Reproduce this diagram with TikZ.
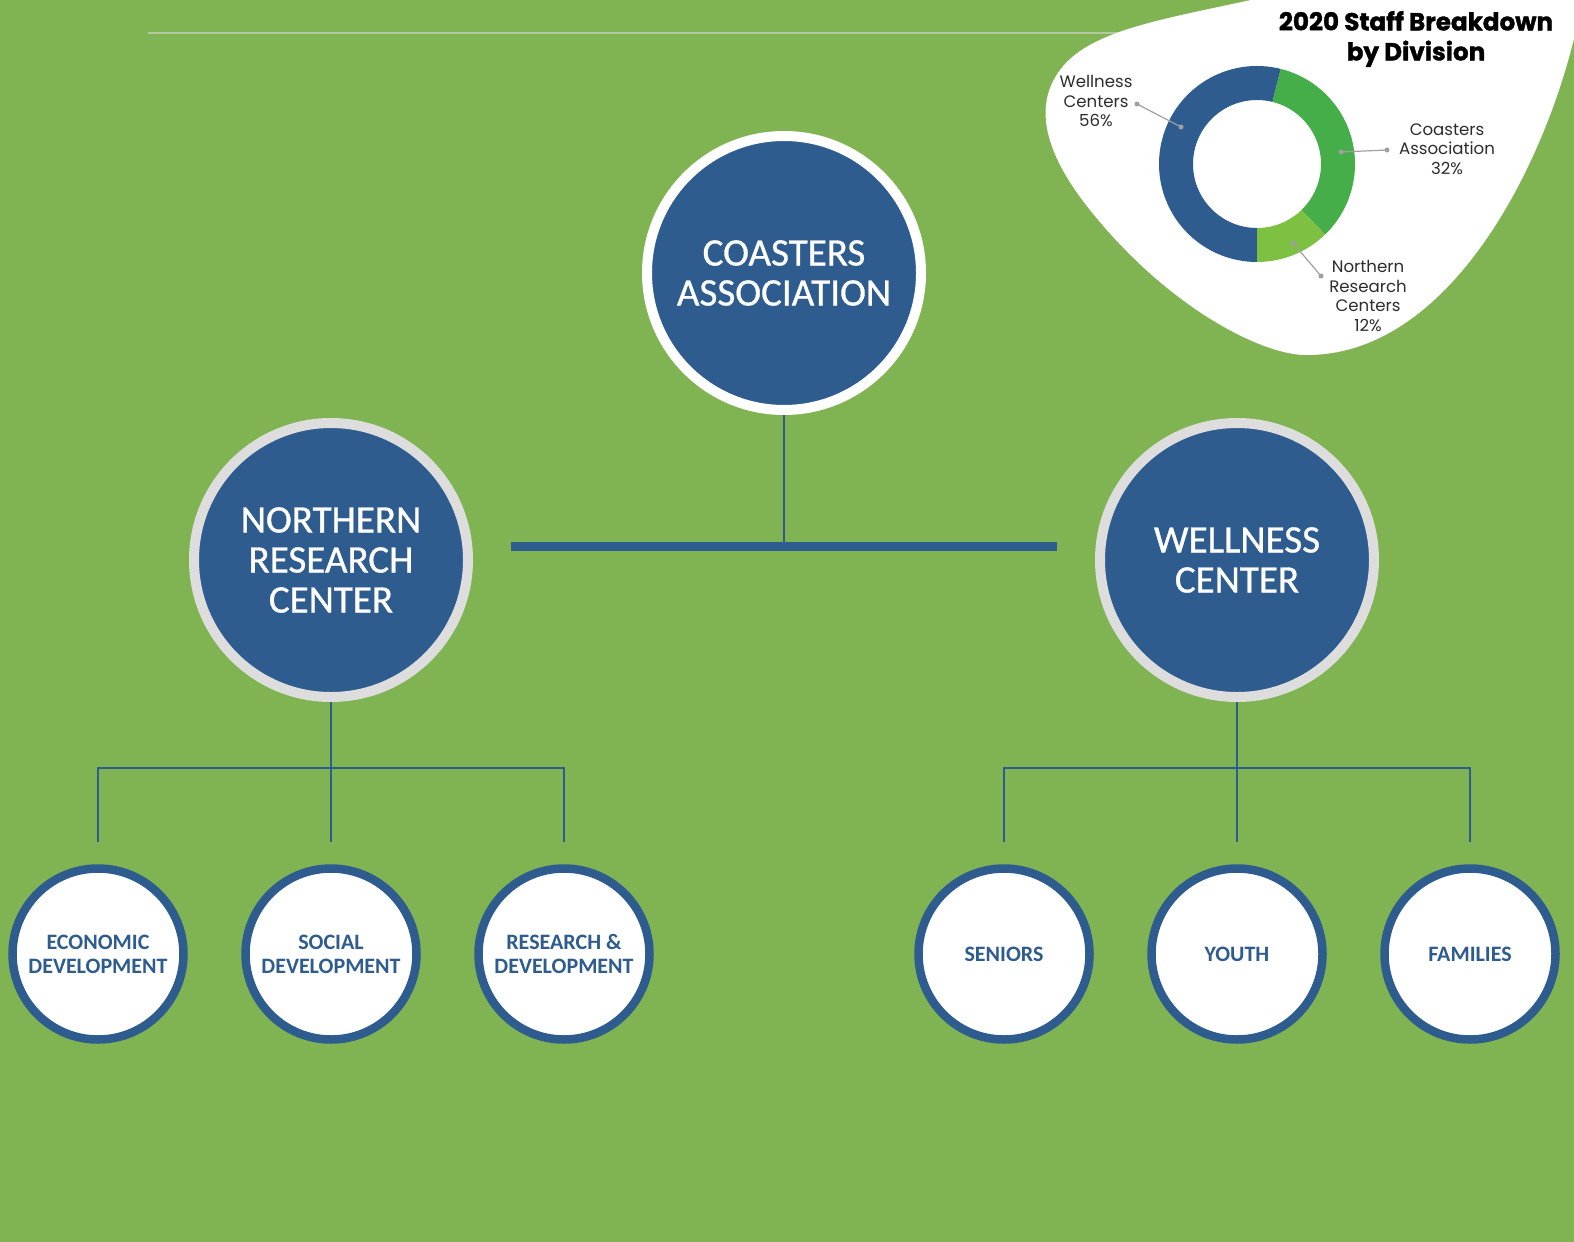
\documentclass[tikz,border=0pt]{standalone}
\usepackage{fontspec}
\setmainfont{Carlito}
\newfontfamily\circlefont{Carlito}[FakeBold=0.8]
\newfontfamily\poppins{Poppins}[BoldFeatures={FakeBold=1.4}]
\definecolor{bggreen}{RGB}{128,179,82}
\definecolor{orgblue}{RGB}{46,92,143}
\definecolor{ringgrey}{RGB}{221,221,221}
\definecolor{cagreen}{RGB}{70,174,72}
\definecolor{nrgreen}{RGB}{126,193,66}
\definecolor{leadgrey}{RGB}{160,160,160}
\definecolor{labelgrey}{RGB}{45,45,45}
\definecolor{toprule}{RGB}{180,200,160}
\begin{document}
\begin{tikzpicture}[x=1pt, y=-1pt,
hq/.style={circle, draw=white, fill=orgblue, line width=10pt, minimum size=274pt, inner sep=0pt, align=center, text=white, font=\circlefont\fontsize{39}{40}\selectfont},
division/.style={hq, draw=ringgrey},
unit/.style={circle, draw=orgblue, fill=white, line width=8.5pt, minimum size=171pt, inner sep=0pt, align=center, text=orgblue, font=\bfseries\fontsize{22}{24}\selectfont},
link/.style={draw=orgblue, line width=2.5pt},
bus/.style={draw=orgblue, line width=9pt},
leader/.style={draw=leadgrey, line width=1.2pt},
slicelabel/.style={align=center, text=labelgrey, inner sep=0pt, font=\poppins\fontsize{16.6}{19.5}\selectfont},
charttitle/.style={align=center, text=black, inner sep=0pt, font=\poppins\bfseries\fontsize{24.6}{30}\selectfont},
level 1/.style={sibling distance=906pt, level distance=287pt},
level 2/.style={sibling distance=233pt, level distance=394pt},
edge from parent/.style={draw=none},
]
\useasboundingbox (0,0) rectangle (1574,1242);
\fill[bggreen] (0,0) rectangle (1574,1242);
\draw[toprule, line width=1.5pt] (148,33) -- (1200,33);

% staff breakdown chart
\fill[white] (1260,-2) -- (1580,-2) -- (1576,30)
  .. controls (1545,165) and (1450,355) .. (1307,355)
  .. controls (1265,356) and (1170,310) .. (1090,210)
  .. controls (1050,160) and (1030,110) .. (1060,70)
  .. controls (1090,30) and (1160,20) .. (1260,-2) -- cycle;
\node[charttitle] (pietitle) at (1416,39) {2020 Staff Breakdown\\by Division};
\begin{scope}[shift={(1257,164)}, yscale=-1]
\foreach \from/\to/\col in {76/270/orgblue, -46/76/cagreen, -90/-46/nrgreen}
  \fill[\col] (\from:98) arc[start angle=\from, end angle=\to, radius=98]
    -- (\to:64) arc[start angle=\to, end angle=\from, radius=64] -- cycle;
\end{scope}
\node[slicelabel] (wclabel) at (1096,101) {Wellness\\Centers\\56\%};
\node[slicelabel] (calabel) at (1447,149) {Coasters\\Association\\32\%};
\node[slicelabel] (nrlabel) at (1368,296) {Northern\\Research\\Centers\\12\%};
\coordinate (wctip) at (1137,104);
\coordinate (wcdot) at (1181,127);
\coordinate (catip) at (1387,150);
\coordinate (cadot) at (1341,152);
\coordinate (nrtip) at (1321,276);
\coordinate (nrdot) at (1293,243);
\draw[leader] (wctip) -- (wcdot);
\draw[leader] (catip) -- (cadot);
\draw[leader] (nrtip) -- (nrdot);
\fill[leadgrey] (wctip) circle (2.5pt) (wcdot) circle (2.5pt)
  (catip) circle (2.5pt) (cadot) circle (2.5pt)
  (nrtip) circle (2.5pt) (nrdot) circle (2.5pt);

% organisation tree
\node[hq] (ca) at (784,273) {COASTERS\\ASSOCIATION}
  child { node[division] (nrc) {NORTHERN\\RESEARCH\\CENTER}
    child { node[unit] (econ) {ECONOMIC\\DEVELOPMENT} }
    child { node[unit] (soc) {SOCIAL\\DEVELOPMENT} }
    child { node[unit] (rnd) {RESEARCH \&\\DEVELOPMENT} }
  }
  child { node[division] (wc) {WELLNESS\\CENTER}
    child { node[unit] (sen) {SENIORS} }
    child { node[unit] (youth) {YOUTH} }
    child { node[unit] (fam) {FAMILIES} }
  };

\coordinate (cabus) at (784,546);
\coordinate (busL) at (511,546);
\coordinate (busR) at (1057,546);
\coordinate (nrcfork) at (331,768);
\coordinate (wcfork) at (1237,768);
\draw[link] (ca.south) -- (cabus);
\draw[bus] (busL) -- (busR);
\draw[link] (nrc.south) -- ([yshift=22pt]soc.north);
\draw[link] ([yshift=22pt]econ.north) |- (nrcfork) -| ([yshift=22pt]rnd.north);
\draw[link] (wc.south) -- ([yshift=22pt]youth.north);
\draw[link] ([yshift=22pt]sen.north) |- (wcfork) -| ([yshift=22pt]fam.north);
\end{tikzpicture}
\end{document}
